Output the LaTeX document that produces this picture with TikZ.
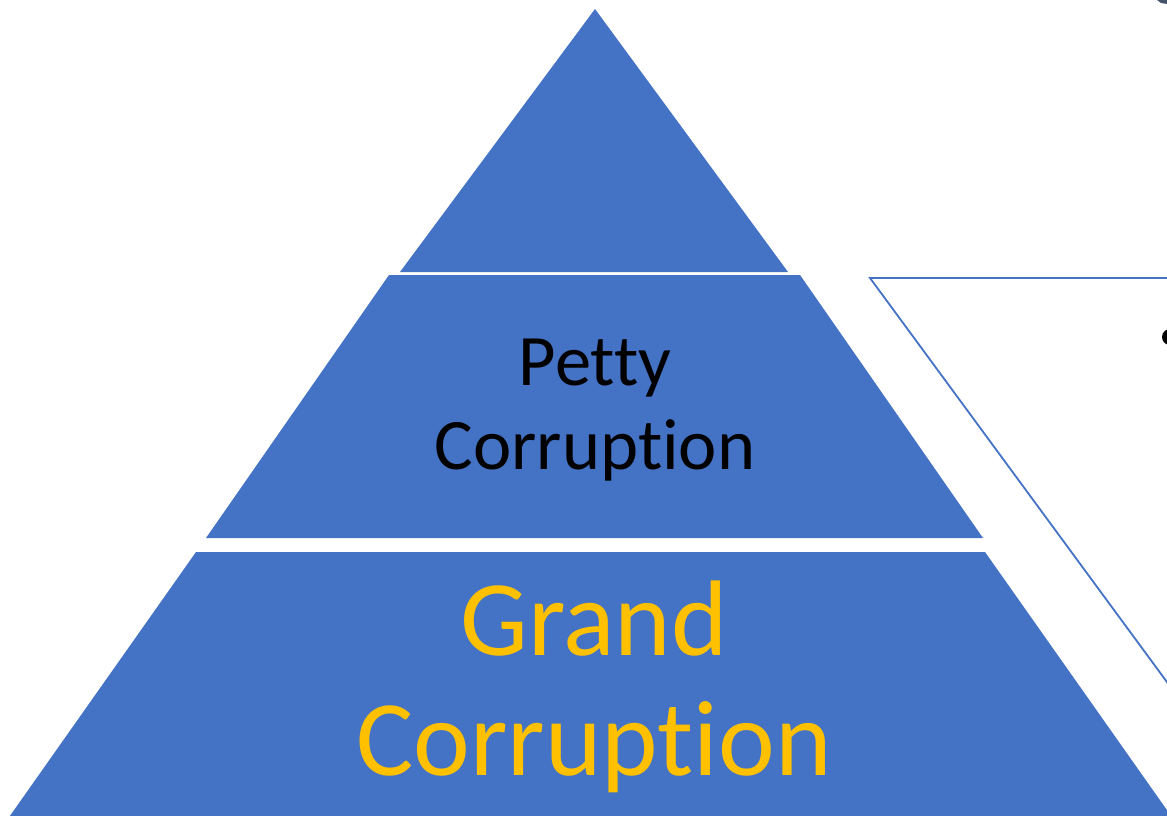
\documentclass[tikz,border=0pt]{standalone}
\usepackage{fontspec}
\setmainfont{Carlito}[Ligatures={NoCommon}]
\definecolor{pblue}{HTML}{4472C4}
\definecolor{pgold}{HTML}{FFC000}
\definecolor{markgray}{HTML}{44546A}
\begin{document}
\begin{tikzpicture}[x=1pt,y=-1pt,
  tier/.style={fill=pblue,draw=none},
  pettytext/.style={anchor=base,inner sep=0pt,text=black,font=\fontsize{72.5}{84}\selectfont},
  grandtext/.style={anchor=base,inner sep=0pt,text=pgold,font=\fontsize{107.5}{120}\selectfont}]
\useasboundingbox (0,0) rectangle (1167,816);
\clip (0,0) rectangle (1167,816);
% pyramid tiers
\fill[tier] (595,9) -- (788,272) -- (400,272) -- cycle;
\fill[tier] (389,275) -- (800,275) -- (983,538) -- (206,538) -- cycle;
\fill[tier] (196,552) -- (985,552) -- (1181,830) -- (0,830) -- cycle;
% right outlined panel
\draw[pblue,line width=1.8pt,fill=white] (1200,278) -- (870,278) -- (1200,727);
% bullet (partially visible)
\fill[black] (1170,337) circle (8);
% small mark top right
\fill[markgray] (1157,0) -- (1167,0) -- (1167,4) -- (1161,3) -- cycle;
% texts
\node[pettytext] (petty) at (595,385) {Petty};
\node[pettytext] (pettycorr) at (595,469) {Corruption};
\node[grandtext] (grand) at (594,655) {Grand};
\node[grandtext] (grandcorr) at (594,775) {Corruption};
\end{tikzpicture}
\end{document}
